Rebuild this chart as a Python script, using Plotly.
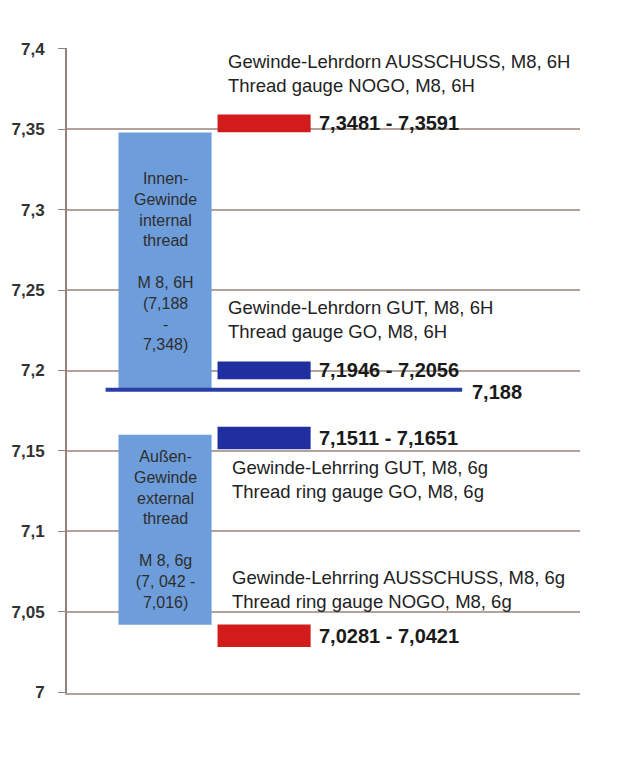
import plotly.graph_objects as go

# ---- data ----
tick_values = [7.0, 7.05, 7.1, 7.15, 7.2, 7.25, 7.3, 7.35, 7.4]
tick_labels = ["7", "7,05", "7,1", "7,15", "7,2", "7,25", "7,3", "7,35", "7,4"]

thread_low = [7.188, 7.042]
thread_high = [7.348, 7.160]
thread_texts = [
    "Innen-<br>Gewinde<br>internal<br>thread<br><br>M 8, 6H<br>(7,188<br>-<br>7,348)",
    "Außen-<br>Gewinde<br>external<br>thread<br><br>M 8, 6g<br>(7, 042 -<br>7,016)",
]

gauge_low = [7.3481, 7.1946, 7.1511, 7.0281]
gauge_high = [7.3591, 7.2056, 7.1651, 7.0421]
gauge_kind = ["NOGO", "GO", "GO", "NOGO"]
gauge_desc = [
    "Gewinde-Lehrdorn AUSSCHUSS, M8, 6H<br>Thread gauge NOGO, M8, 6H",
    "Gewinde-Lehrdorn GUT, M8, 6H<br>Thread gauge GO, M8, 6H",
    "Gewinde-Lehrring GUT, M8, 6g<br>Thread ring gauge GO, M8, 6g",
    "Gewinde-Lehrring AUSSCHUSS, M8, 6g<br>Thread ring gauge NOGO, M8, 6g",
]
gauge_desc_side = ["above", "above", "below", "above"]

nominal_min = 7.188
nominal_label = "7,188"

# ---- style ----
FONT = "Liberation Sans, Arial, sans-serif"
BOX_COLOR = "#6d9dda"
KIND_COLOR = {"GO": "#1f2f9f", "NOGO": "#d21c1c"}
LINE_COLOR = "#2a3fa6"
GRID_COLOR = "#b3a39a"
AXIS_COLOR = "#94807a"
BAR_W = 0.94
X_THREAD = 0
X_GAUGE = 1
DESC_YSHIFT = [17, 17, -6, 10]
DESC_XSHIFT = [8, 8, 12, 12]


def fmt(v):
    return f"{v:.4f}".replace(".", ",")


fig = go.Figure()

fig.add_trace(go.Bar(
    x=[X_THREAD] * len(thread_low),
    y=[h - l for h, l in zip(thread_high, thread_low)],
    base=thread_low,
    width=BAR_W,
    marker=dict(color=BOX_COLOR, line=dict(width=0)),
    hoverinfo="skip",
))

fig.add_trace(go.Bar(
    x=[X_GAUGE] * len(gauge_low),
    y=[h - l for h, l in zip(gauge_high, gauge_low)],
    base=gauge_low,
    width=BAR_W,
    marker=dict(color=[KIND_COLOR[k] for k in gauge_kind], line=dict(width=0)),
    hoverinfo="skip",
))

fig.add_trace(go.Scatter(
    x=[X_THREAD - 0.6, X_GAUGE + 2.0],
    y=[nominal_min, nominal_min],
    mode="lines",
    line=dict(color=LINE_COLOR, width=4),
    hoverinfo="skip",
))

annotations = []
for lo, hi, txt in zip(thread_low, thread_high, thread_texts):
    annotations.append(dict(
        x=X_THREAD, y=(lo + hi) / 2, xref="x", yref="y", text=txt,
        showarrow=False, xanchor="center", yanchor="middle",
        font=dict(family=FONT, size=16, color="#2e2e2e"),
    ))

for i, (lo, hi, desc, side) in enumerate(zip(gauge_low, gauge_high, gauge_desc, gauge_desc_side)):
    annotations.append(dict(
        x=X_GAUGE + BAR_W / 2, y=(lo + hi) / 2, xref="x", yref="y",
        text="<b>" + fmt(lo) + " - " + fmt(hi) + "</b>",
        showarrow=False, xanchor="left", yanchor="middle", xshift=6,
        font=dict(family=FONT, size=20, color="#1a1a1a"),
    ))
    annotations.append(dict(
        x=X_GAUGE - BAR_W / 2, y=hi if side == "above" else lo, xref="x", yref="y",
        text=desc, showarrow=False, xanchor="left",
        yanchor="bottom" if side == "above" else "top",
        xshift=DESC_XSHIFT[i], yshift=DESC_YSHIFT[i],
        align="left", font=dict(family=FONT, size=18.5, color="#222222"),
    ))

annotations.append(dict(
    x=X_GAUGE + 2.0, y=nominal_min, xref="x", yref="y",
    text="<b>" + nominal_label + "</b>",
    showarrow=False, xanchor="left", yanchor="middle", xshift=8, yshift=-2,
    font=dict(family=FONT, size=20, color="#1a1a1a"),
))

fig.update_layout(
    width=633, height=757,
    margin=dict(l=59, r=61, t=40, b=72),
    paper_bgcolor="white", plot_bgcolor="white",
    showlegend=False,
    barmode="overlay",
    annotations=annotations,
    font=dict(family=FONT),
)
fig.update_xaxes(
    range=[-0.99, 4.19], showticklabels=False, showgrid=False, zeroline=False,
    showline=True, linecolor=GRID_COLOR, linewidth=2, ticks="", automargin=False,
)
fig.update_yaxes(
    range=[6.9995, 7.4005], tickvals=tick_values, ticktext=tick_labels,
    showgrid=True, gridcolor=GRID_COLOR, gridwidth=1.5, zeroline=False,
    showline=True, linecolor=AXIS_COLOR, linewidth=2, automargin=False,
    ticks="outside", ticklen=7, tickcolor=AXIS_COLOR, ticklabelstandoff=10,
    tickfont=dict(family=FONT, size=17, color="#333333", weight="bold"),
)

fig.write_html("out.html")
